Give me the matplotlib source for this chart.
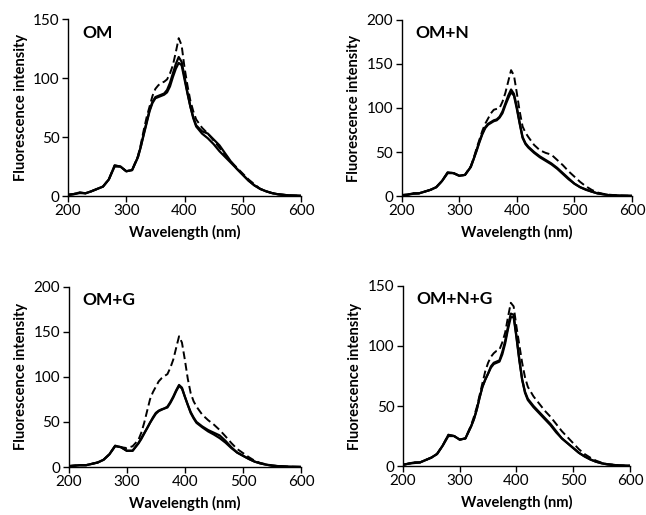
import numpy as np
import matplotlib.pyplot as plt

plt.rcParams['font.family'] = ['Lato', 'DejaVu Sans']

# wavelengths (nm): 10 nm steps, 5 nm steps around the main band
wl = [200, 210, 220, 230, 240, 250, 260, 270, 280, 290, 300, 310,
      320, 325, 330, 335, 340, 345, 350, 355, 360, 365, 370, 375, 380,
      385, 390, 395, 400, 405, 410, 415, 420,
      430, 440, 450, 460, 470, 480, 490, 500, 510, 520, 530, 540, 550, 560,
      580, 600]

# OM
om_a = [1, 1.7, 3, 2.3, 4, 6, 8, 14, 26, 25, 21, 22,
        33, 42, 53, 63, 73, 80, 84, 85, 86, 87, 90, 96, 104,
        112, 118, 114, 101, 88, 76, 66, 59,
        53, 49, 44, 38, 33, 28, 23, 18, 13, 9, 6, 4, 2.5, 1.5,
        0.5, 0.2]
om_b = [1, 1.5, 2.5, 2.3, 4, 6, 8, 14, 25, 25, 21, 22,
        33, 42, 52, 62, 72, 79, 83, 84, 85, 86, 88, 93, 101,
        108, 113, 111, 99, 87, 76, 67, 60,
        55, 53, 48, 43, 36, 29, 23, 18, 13, 9, 6, 4, 2.5, 1.5,
        0.5, 0.2]
om_d = [1, 1.7, 3, 2.3, 4, 6, 8, 14, 26, 25, 21, 22,
        34, 44, 56, 67, 76, 85, 91, 94, 96, 97, 99, 104, 111,
        122, 134, 128, 109, 94, 81, 72, 65,
        58, 53, 47, 41, 35, 29, 24, 19, 14, 10, 6, 4, 2.5, 1.5,
        0.5, 0.2]

# OM+N
omn_a = [1, 1.5, 3, 3, 5, 7, 10, 17, 27, 26, 23, 24,
         33, 42, 52, 62, 71, 78, 82, 84, 86, 87, 90, 96, 105,
         114, 121, 116, 101, 83, 67, 60, 56,
         50, 45, 41, 37, 32, 26, 20, 14, 10, 7.5, 5, 3, 2, 1,
         0.4, 0.2]
omn_b = [1, 1.5, 2.5, 3, 5, 7, 10, 17, 26, 26, 23, 24,
         33, 42, 51, 61, 70, 77, 81, 83, 85, 86, 89, 94, 103,
         111, 118, 114, 99, 82, 66, 59, 55,
         49, 44, 40, 36, 31, 25, 19, 14, 10, 7, 5, 3, 2, 1,
         0.4, 0.2]
omn_d = [1, 1.5, 3, 3, 5, 7, 10, 17, 27, 26, 23, 24,
         34, 43, 54, 64, 74, 82, 88, 94, 98, 99, 100, 107, 117,
         130, 143, 137, 117, 96, 79, 72, 67,
         58, 52, 49, 47, 41, 35, 28, 22, 16, 11, 7, 4, 2.5, 1.5,
         0.5, 0.2]

# OM+G
omg_a = [1, 1.5, 2, 2, 3.5, 5, 8, 14, 23.6, 22, 18, 18,
         26.6, 32, 37.6, 43, 49, 55, 60, 62.5, 64, 65, 67, 72, 78,
         85, 91, 88, 78, 69, 60, 54, 49,
         44, 39.5, 36, 32, 27, 21, 16, 12.5, 9, 6, 4, 2.6, 1.5, 1,
         0.3, 0.1]
omg_b = [1, 1.5, 2, 2, 3.5, 5, 8, 14, 23, 22, 18, 18,
         26, 31, 37, 43, 49, 54, 59, 62, 63.5, 65, 66, 71, 77,
         84, 90, 87, 78, 69, 61, 55, 50,
         45, 41, 38, 35, 29, 22, 16, 12.5, 9, 6, 4, 2.6, 1.5, 1,
         0.3, 0.1]
omg_d = [1, 1.5, 2, 2, 3.5, 5, 8, 14, 23.6, 22, 21, 23,
         30, 38, 49, 62, 75, 83, 89, 95, 98.5, 101, 103, 110, 119,
         132, 145, 138, 119, 98, 82, 73, 67,
         58, 52, 47, 41, 34, 26.6, 20, 15.5, 11, 7, 4.5, 3, 1.8, 1,
         0.3, 0.1]

# OM+N+G
omng_a = [1, 2, 3, 3, 5, 7, 10, 17, 26, 25, 22, 23,
          33, 39, 47, 57, 66, 72, 77, 83, 86, 87, 88, 95, 104,
          116, 127, 126, 108, 89, 72, 61, 55,
          49, 44, 39, 34, 28, 23, 19, 15, 11, 8, 5.5, 3.6, 2.3, 1.4,
          0.5, 0.2]
omng_b = [1, 2, 2.5, 3, 5, 7, 10, 17, 25, 25, 22, 23,
          33, 39, 47, 57, 66, 72, 77, 82, 85, 86, 87, 93, 102,
          114, 124, 124, 107, 88, 72, 62, 56,
          50, 45, 40, 35, 29, 23, 19, 15, 11, 8, 5.5, 3.6, 2.3, 1.4,
          0.5, 0.2]
omng_d = [1, 2, 3, 3, 5, 7, 10, 17, 26, 25, 22, 23,
          34, 41, 49, 59, 69, 79, 86, 91, 94, 96, 97, 103, 111,
          124, 136, 133, 116, 101, 86, 74, 66,
          58, 52, 46, 41, 35, 29, 24, 19, 14, 10, 7, 4.5, 2.8, 1.6,
          0.5, 0.2]

panels = [
    ('OM', [om_a, om_b], om_d, 150, [0.1053, 0.6194, 0.3607, 0.3431]),
    ('OM+N', [omn_a, omn_b], omn_d, 200, [0.6218, 0.6194, 0.3565, 0.3418]),
    ('OM+G', [omg_a, omg_b], omg_d, 200, [0.1063, 0.0932, 0.3597, 0.3501]),
    ('OM+N+G', [omng_a, omng_b], omng_d, 150, [0.6238, 0.0951, 0.3514, 0.3496]),
]

fig = plt.figure(figsize=(6.46, 5.15), dpi=100)

for name, solids, dashed, ymax, rect in panels:
    ax = fig.add_axes(rect)
    for s in solids:
        ax.plot(wl, s, color='black', lw=1.6, solid_joinstyle='round')
    ax.plot(wl, dashed, color='black', lw=1.4, ls=(0, (4, 2)))
    ax.set_xlim(200, 600)
    ax.set_ylim(0, ymax)
    ax.set_xticks([200, 300, 400, 500, 600])
    ax.set_yticks(np.arange(0, ymax + 1, 50))
    for side in ['top', 'right']:
        ax.spines[side].set_visible(False)
    for side in ['left', 'bottom']:
        ax.spines[side].set_linewidth(1.0)
    ax.tick_params(direction='out', length=4, width=1, labelsize=11, pad=2)
    ax.set_xlabel('Wavelength (nm)', fontsize=10.5, fontweight='bold', labelpad=5)
    ax.set_ylabel('Fluorescence intensity', fontsize=10.5, fontweight='bold', labelpad=4)
    ax.text(0.06, 0.97, name, transform=ax.transAxes, fontsize=12.5,
            fontweight='bold', va='top', ha='left')

fig.savefig('out.png', dpi=100)
